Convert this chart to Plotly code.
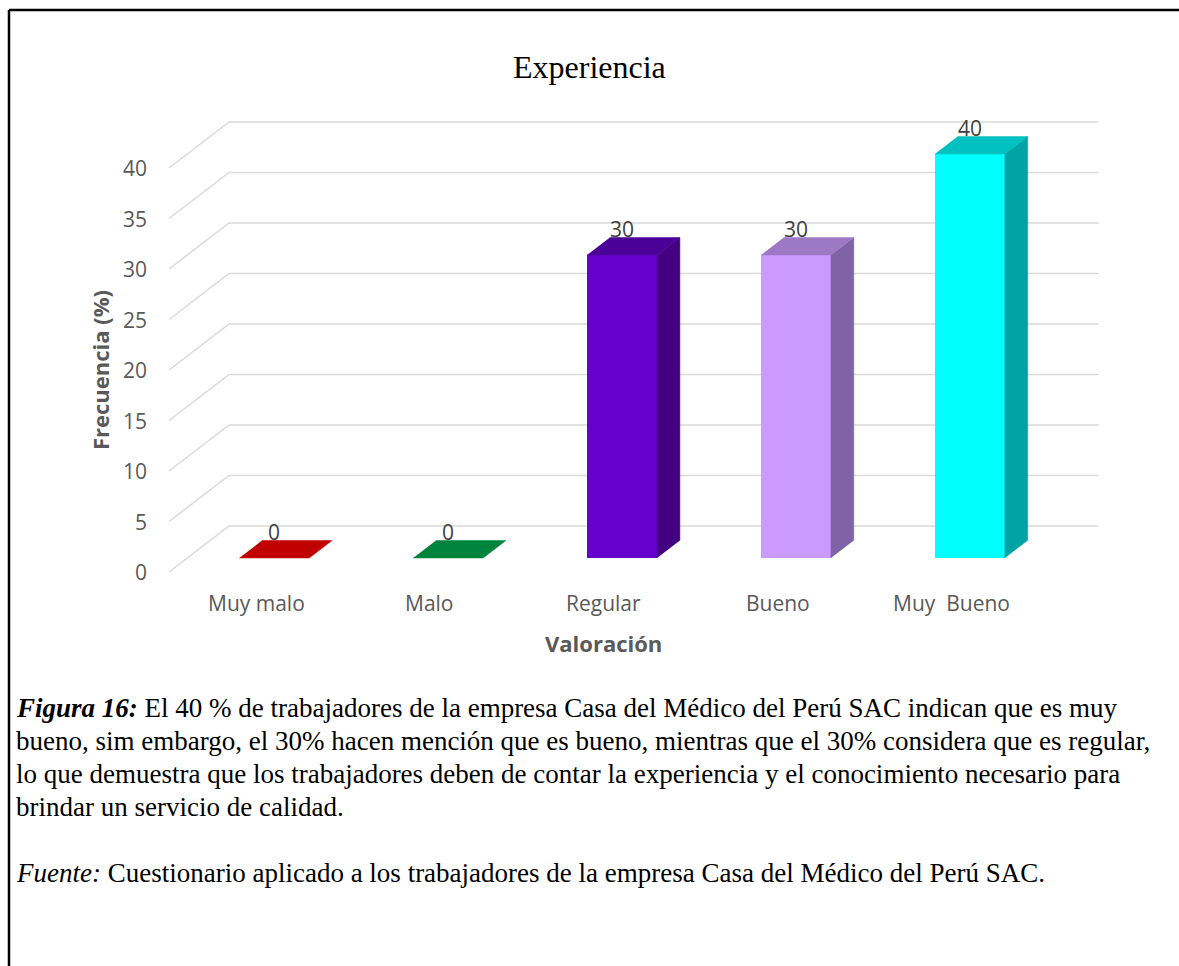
import plotly.graph_objects as go

# ---- data -------------------------------------------------------------
categories = ["Muy malo", "Malo", "Regular", "Bueno", "Muy\u00a0 Bueno"]
frecuencia = [0, 0, 30, 30, 40]
y_ticks = [0, 5, 10, 15, 20, 25, 30, 35, 40]

front_colors = ["#C00000", "#00843D", "#6600CC", "#CC99FF", "#00FFFF"]
top_colors = ["#C00000", "#00843D", "#4B0097", "#9D78C4", "#00C0C0"]
side_colors = ["#8F0000", "#006430", "#430080", "#8063A6", "#00A3A3"]

title_text = "Experiencia"
y_title = "Frecuencia (%)"
x_title = "Valoración"

caption_lines = [
    "<b><i>Figura 16:</i></b> El 40 % de trabajadores de la empresa Casa del Médico del Perú SAC indican que es muy",
    "bueno, sim embargo, el 30% hacen mención que es bueno, mientras que el 30% considera que es regular,",
    "lo que demuestra que los trabajadores deben de contar la experiencia y el conocimiento necesario para",
    "brindar un servicio de calidad.",
]
source_line = "<i>Fuente:</i> Cuestionario aplicado a los trabajadores de la empresa Casa del Médico del Perú SAC."

# ---- layout geometry --------------------------------------------------
W, H = 1179, 966
CAT_PX = 173.9      # pixels per category step
VAL_PX = 10.1       # pixels per percentage point
ORIGIN_X = 256      # pixel x of the first category on the floor front edge
ORIGIN_Y = 572      # pixel y of value 0 on the floor front edge

# oblique projection of the box: depth z runs 0 (floor front) .. 1 (back wall)
KX = 60 / CAT_PX
KY = 46 / VAL_PX
Z_FRONT = 14 / 46
Z_BACK = 31.5 / 46
BAR_W = 70 / CAT_PX

TEXT_GRAY = "#595959"
GRID = "#D9D9D9"
SANS = "Open Sans"
SERIF = "Liberation Serif"
LABEL_SIZE = 21


def proj(x, v, z):
    return x + z * KX, v + z * KY


def px_x(p):
    return p / W


def px_y(p):
    return 1 - p / H


n = len(categories)
x_lo, x_hi = -0.5, n - 0.5

fig = go.Figure()

# front faces of the bars
fig.add_trace(go.Bar(
    x=[proj(i, 0, Z_FRONT)[0] for i in range(n)],
    y=frecuencia,
    base=proj(0, 0, Z_FRONT)[1],
    width=BAR_W,
    marker=dict(color=front_colors, line=dict(width=0)),
    hoverinfo="skip",
))

# side and top faces
for i, v in enumerate(frecuencia):
    xl, xr = i - BAR_W / 2, i + BAR_W / 2
    if v > 0:
        side = [proj(xr, 0, Z_FRONT), proj(xr, v, Z_FRONT),
                proj(xr, v, Z_BACK), proj(xr, 0, Z_BACK)]
        fig.add_trace(go.Scatter(
            x=[p[0] for p in side], y=[p[1] for p in side],
            fill="toself", fillcolor=side_colors[i], mode="lines",
            line=dict(color=side_colors[i], width=0.5), hoverinfo="skip",
        ))
    top = [proj(xl, v, Z_FRONT), proj(xr, v, Z_FRONT),
           proj(xr, v, Z_BACK), proj(xl, v, Z_BACK)]
    fig.add_trace(go.Scatter(
        x=[p[0] for p in top], y=[p[1] for p in top],
        fill="toself", fillcolor=top_colors[i], mode="lines",
        line=dict(color=top_colors[i], width=0.5), hoverinfo="skip",
    ))

shapes = []
annotations = []

# gridlines along the side wall and the back wall
for t in y_ticks:
    p0 = proj(x_lo, t, 0)
    p1 = proj(x_lo, t, 1)
    p2 = proj(x_hi, t, 1)
    shapes.append(dict(
        type="path", xref="x", yref="y", layer="below",
        path=f"M {p0[0]},{p0[1]} L {p1[0]},{p1[1]} L {p2[0]},{p2[1]}",
        line=dict(color=GRID, width=1.5),
    ))
    annotations.append(dict(
        x=p0[0], y=p0[1], xref="x", yref="y", text=str(t),
        xanchor="right", yanchor="middle", xshift=-20, showarrow=False,
        font=dict(family=SANS, size=LABEL_SIZE, color=TEXT_GRAY),
    ))

# category labels
for i, c in enumerate(categories):
    annotations.append(dict(
        x=i, y=0, xref="x", yref="y", text=c, xanchor="center",
        yanchor="middle", yshift=-31, showarrow=False,
        font=dict(family=SANS, size=LABEL_SIZE, color=TEXT_GRAY),
    ))

# value labels
for i, v in enumerate(frecuencia):
    annotations.append(dict(
        x=proj(i, v, Z_FRONT)[0], y=proj(i, v, Z_BACK)[1], xref="x", yref="y",
        text=str(v), xanchor="center", yanchor="middle", yshift=9,
        showarrow=False, font=dict(family=SANS, size=LABEL_SIZE, color="#404040"),
    ))

# titles
annotations.append(dict(
    x=px_x(589), y=px_y(67), xref="paper", yref="paper", text=title_text,
    xanchor="center", yanchor="middle", showarrow=False,
    font=dict(family=SERIF, size=32, color="#000000"),
))
annotations.append(dict(
    x=px_x(100), y=px_y(370), xref="paper", yref="paper", text=f"<b>{y_title}</b>",
    textangle=-90, xanchor="center", yanchor="middle", showarrow=False,
    font=dict(family=SANS, size=22, color=TEXT_GRAY),
))
annotations.append(dict(
    x=px_x(603), y=px_y(643), xref="paper", yref="paper", text=f"<b>{x_title}</b>",
    xanchor="center", yanchor="middle", showarrow=False,
    font=dict(family=SANS, size=22, color=TEXT_GRAY),
))

# caption below the chart
for k, line in enumerate(caption_lines + [""] + [source_line]):
    if not line:
        continue
    annotations.append(dict(
        x=px_x(14), y=px_y(708 + 33 * k), xref="paper", yref="paper", text=line,
        xanchor="left", yanchor="middle", showarrow=False,
        font=dict(family=SERIF, size=27, color="#000000"),
    ))

# frame around the figure block
shapes.append(dict(type="line", xref="paper", yref="paper",
                   x0=px_x(9), x1=1, y0=px_y(10), y1=px_y(10),
                   line=dict(color="#000000", width=2.5)))
shapes.append(dict(type="line", xref="paper", yref="paper",
                   x0=px_x(9), x1=px_x(9), y0=px_y(10), y1=0,
                   line=dict(color="#000000", width=2.5)))

fig.update_layout(
    width=W, height=H,
    margin=dict(l=0, r=0, t=0, b=0),
    paper_bgcolor="#FFFFFF", plot_bgcolor="#FFFFFF",
    showlegend=False,
    xaxis=dict(range=[-ORIGIN_X / CAT_PX, (W - ORIGIN_X) / CAT_PX],
               visible=False, fixedrange=True),
    yaxis=dict(range=[-(H - ORIGIN_Y) / VAL_PX, ORIGIN_Y / VAL_PX],
               visible=False, fixedrange=True),
    shapes=shapes,
    annotations=annotations,
    bargap=0,
)

fig.write_html("out.html")
